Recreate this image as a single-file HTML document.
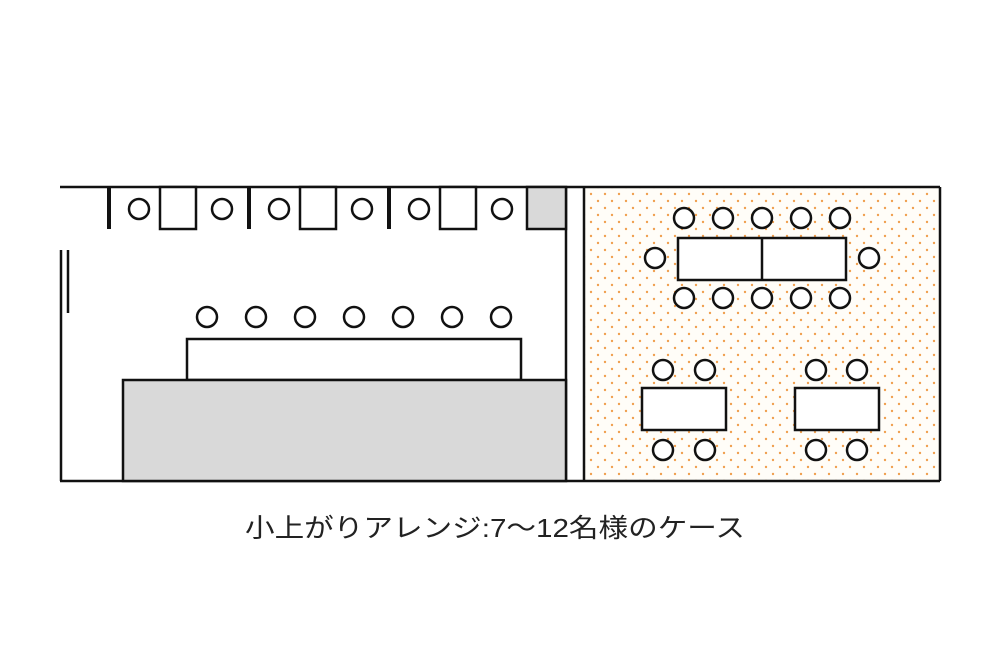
<!DOCTYPE html>
<html><head><meta charset="utf-8"><style>
html,body{margin:0;padding:0;background:#fff;}
svg{display:block;}
</style></head><body>
<svg width="1000" height="668" viewBox="0 0 1000 668" xmlns="http://www.w3.org/2000/svg">
<defs>
<pattern id="dots" x="588" y="191" width="14" height="14" patternUnits="userSpaceOnUse">
<circle cx="3" cy="3" r="1.2" fill="#f0a050"/>
<circle cx="10" cy="10" r="1.2" fill="#f0a050"/>
</pattern>
</defs>
<rect width="1000" height="668" fill="#fff"/>
<!-- right room -->
<rect x="584" y="187" width="356" height="294" fill="#fffdf8"/>
<rect x="584" y="187" width="356" height="294" fill="url(#dots)"/>
<g fill="none" stroke="#111" stroke-width="2.5">
<line x1="60" y1="187" x2="940" y2="187"/>
<line x1="60" y1="481" x2="940" y2="481"/>
<line x1="940" y1="187" x2="940" y2="481"/>
<line x1="584" y1="187" x2="584" y2="481"/>
<line x1="566" y1="187" x2="566" y2="481"/>
<line x1="61" y1="250" x2="61" y2="481"/>
<line x1="68" y1="250" x2="68" y2="313"/>
</g>
<!-- booths -->
<g stroke="#111" stroke-width="4">
<line x1="109" y1="187" x2="109" y2="229"/>
<line x1="249" y1="187" x2="249" y2="229"/>
<line x1="389" y1="187" x2="389" y2="229"/>
</g>
<g fill="#fff" stroke="#111" stroke-width="2.5">
<rect x="160" y="187" width="36" height="42"/>
<rect x="300" y="187" width="36" height="42"/>
<rect x="440" y="187" width="36" height="42"/>
<circle cx="139" cy="209" r="10"/><circle cx="222" cy="209" r="10"/>
<circle cx="279" cy="209" r="10"/><circle cx="362" cy="209" r="10"/>
<circle cx="419" cy="209" r="10"/><circle cx="502" cy="209" r="10"/>
</g>
<rect x="527" y="187" width="39" height="42" fill="#d9d9d9" stroke="#111" stroke-width="2.5"/>
<!-- counter -->
<rect x="187" y="339" width="334" height="41" fill="#fff" stroke="#111" stroke-width="2.5"/>
<rect x="123" y="380" width="443" height="101" fill="#d9d9d9" stroke="#111" stroke-width="2.5"/>
<g fill="#fff" stroke="#111" stroke-width="2.5">
<circle cx="207" cy="317" r="10"/><circle cx="256" cy="317" r="10"/><circle cx="305" cy="317" r="10"/>
<circle cx="354" cy="317" r="10"/><circle cx="403" cy="317" r="10"/><circle cx="452" cy="317" r="10"/>
<circle cx="501" cy="317" r="10"/>
</g>
<!-- right tables -->
<g fill="#fff" stroke="#111" stroke-width="2.5">
<rect x="678" y="238" width="168" height="42"/>
<line x1="762" y1="238" x2="762" y2="280"/>
<circle cx="684" cy="218" r="10"/><circle cx="723" cy="218" r="10"/><circle cx="762" cy="218" r="10"/><circle cx="801" cy="218" r="10"/><circle cx="840" cy="218" r="10"/>
<circle cx="684" cy="298" r="10"/><circle cx="723" cy="298" r="10"/><circle cx="762" cy="298" r="10"/><circle cx="801" cy="298" r="10"/><circle cx="840" cy="298" r="10"/>
<circle cx="655" cy="258" r="10"/><circle cx="869" cy="258" r="10"/>
<rect x="642" y="388" width="84" height="42"/>
<rect x="795" y="388" width="84" height="42"/>
<circle cx="663" cy="370" r="10"/><circle cx="705" cy="370" r="10"/>
<circle cx="663" cy="450" r="10"/><circle cx="705" cy="450" r="10"/>
<circle cx="816" cy="370" r="10"/><circle cx="857" cy="370" r="10"/>
<circle cx="816" cy="450" r="10"/><circle cx="857" cy="450" r="10"/>
</g>
<text x="245" y="537" font-family="Liberation Sans, Noto Sans CJK JP, sans-serif" font-size="26" fill="#222" textLength="500" lengthAdjust="spacingAndGlyphs">小上がりアレンジ:7〜12名様のケース</text>
</svg>
</body></html>
